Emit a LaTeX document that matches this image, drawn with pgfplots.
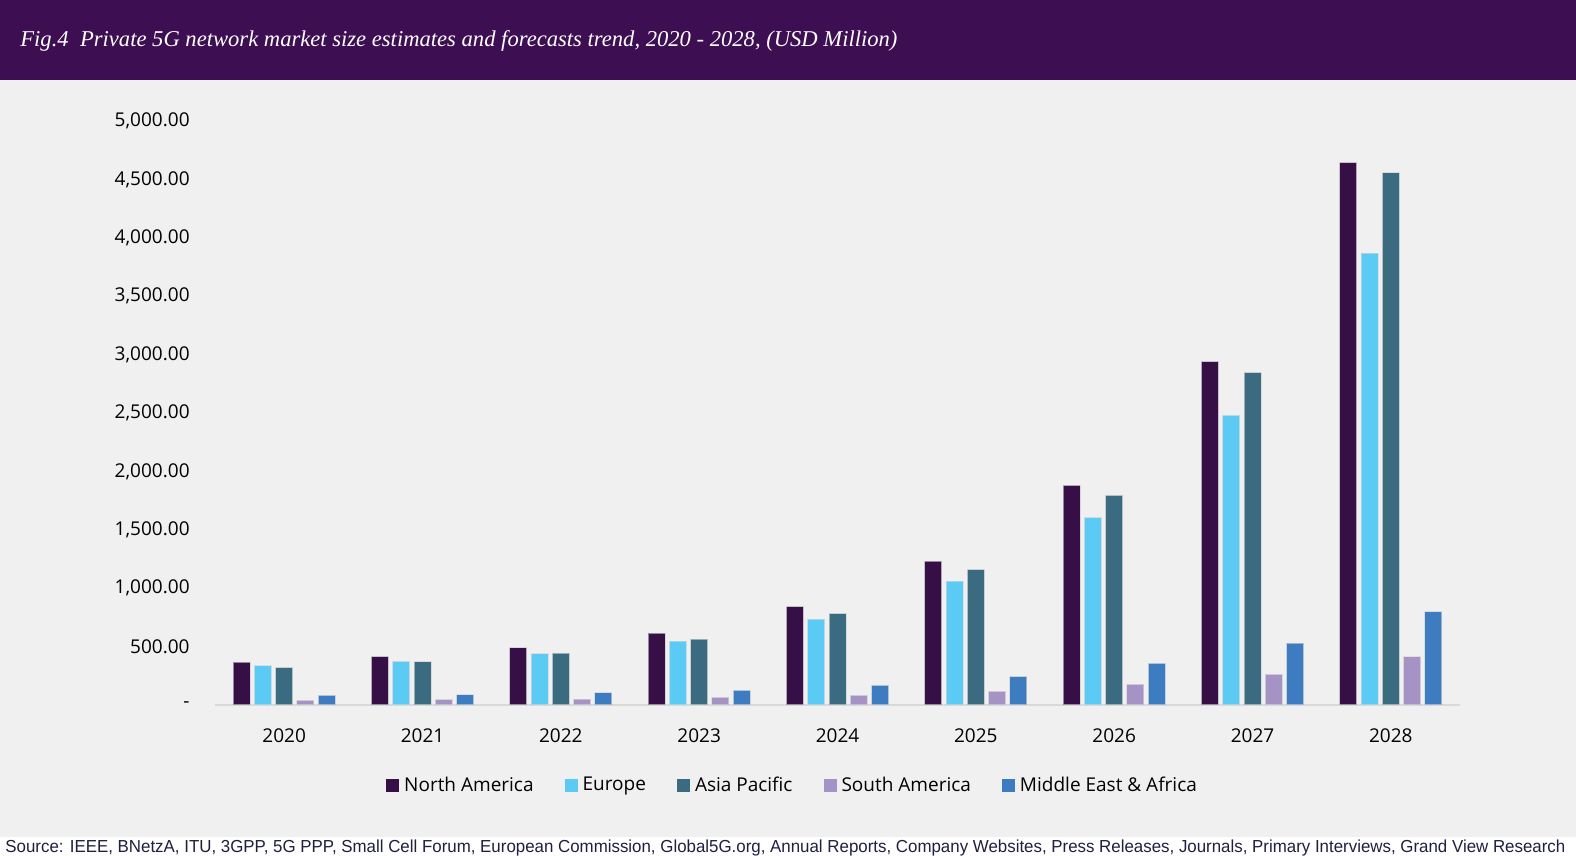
\documentclass[border=0pt]{standalone}
\usepackage{fontspec}
\setmainfont{Open Sans}
\newfontfamily\titlefont{Liberation Serif}
\newfontfamily\srcfont{Liberation Sans}
\usepackage{graphicx}
\usepackage{pgfplots}
\pgfplotsset{compat=1.18}

\definecolor{banner}{HTML}{3D0E51}
\definecolor{bg}{HTML}{F0F0F0}
\definecolor{axisgray}{HTML}{D9D9D9}
\definecolor{srctext}{HTML}{1F2040}
\definecolor{cNA}{HTML}{360F47}
\definecolor{cEU}{HTML}{5BCBF5}
\definecolor{cAP}{HTML}{3A6B80}
\definecolor{cSA}{HTML}{A593C6}
\definecolor{cME}{HTML}{3E7CC2}

\begin{document}
\begin{tikzpicture}
% page background, banner and source strip (1px = 0.5pt)
\begin{scope}[x=0.5pt,y=0.5pt]
  \fill[bg] (0,0) rectangle (1576,856);
  \path[use as bounding box] (0,0) rectangle (1576,856);
  \fill[banner] (0,776) rectangle (1576,856);
  \fill[white] (0,0) rectangle (1576,19);
  \node[anchor=west, inner sep=0pt, text=white,
        font=\titlefont\itshape\fontsize{11.3}{13}\selectfont] at (20,815)
    {Fig.4\ \ Private 5G network market size estimates and forecasts trend, 2020 - 2028, (USD Million)};
  \node[anchor=base west, inner sep=0pt, text=srctext] at (5,3)
    {\resizebox{780pt}{6.3pt}{\srcfont\fontsize{10}{12}\selectfont Source: IEEE, BNetzA, ITU, 3GPP, 5G PPP, Small Cell Forum, European Commission, Global5G.org, Annual Reports, Company Websites, Press Releases, Journals, Primary Interviews, Grand View Research}};
\end{scope}

\begin{axis}[
    at={(107.5pt,75.5pt)}, anchor=south west,
    scale only axis,
    width=622.5pt, height=292pt,
    ybar=2.15pt, bar width=8.5pt,
    xmin=-0.5, xmax=8.5,
    ymin=0, ymax=5000,
    axis x line=bottom, axis y line=left,
    x axis line style={-, draw=axisgray, line width=1.25pt},
    y axis line style={draw=none},
    xtick={0,...,8},
    xticklabels={2020,2021,2022,2023,2024,2025,2026,2027,2028},
    ytick={0,500,...,5000},
    yticklabels={-,500.00,{1,000.00},{1,500.00},{2,000.00},{2,500.00},{3,000.00},{3,500.00},{4,000.00},{4,500.00},{5,000.00}},
    major tick length=0pt,
    tick style={draw=none},
    ticklabel style={font=\fontsize{9.5}{11}\selectfont, text=black},
    yticklabel style={anchor=east, inner sep=0pt, xshift=-12.5pt},
    xticklabel style={anchor=north, inner sep=0pt, yshift=-11.5pt},
    every axis plot/.append style={draw=black!15, draw opacity=0.6, line width=0.5pt},
    legend columns=-1,
    legend cell align=left,
    legend image code/.code={\fill[#1,draw=none] (0pt,-3.25pt) rectangle (6.5pt,3.25pt);},
    legend style={at={(0.4647,-0.138)}, anchor=center, draw=none, fill=none,
        font=\fontsize{9.5}{11}\selectfont,
        /tikz/every odd column/.append style={column sep=0.5pt},
        /tikz/every even column/.append style={column sep=13.5pt}},
]
\addplot[fill=cNA] coordinates {(0,366) (1,414) (2,489) (3,615) (4,843) (5,1232) (6,1881) (7,2939) (8,4644)};
\addplot[fill=cEU] coordinates {(0,334) (1,374) (2,437) (3,546) (4,735) (5,1061) (6,1604) (7,2479) (8,3868)};
\addplot[fill=cAP] coordinates {(0,319) (1,369) (2,443) (3,563) (4,783) (5,1160) (6,1795) (7,2845) (8,4555)};
\addplot[fill=cSA] coordinates {(0,40) (1,45) (2,51) (3,66) (4,83) (5,117) (6,177) (7,263) (8,412)};
\addplot[fill=cME] coordinates {(0,83) (1,86) (2,103) (3,126) (4,169) (5,243) (6,357) (7,529) (8,798)};
\legend{North America, Europe, Asia Pacific, South America, Middle East \& Africa}
\end{axis}
\end{tikzpicture}
\end{document}
